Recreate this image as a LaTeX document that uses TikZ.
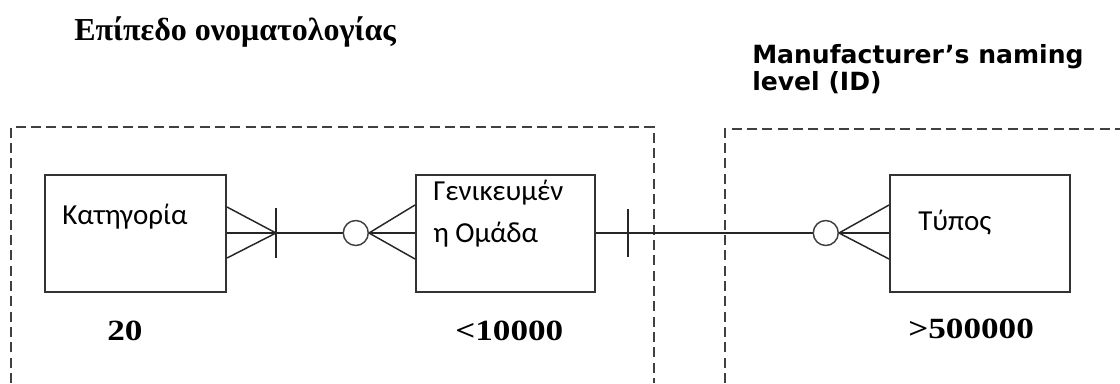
\documentclass[tikz,border=0pt]{standalone}
\usepackage{fontspec}
\setmainfont{Liberation Serif}
\newfontfamily\entityfont{Carlito}
\newfontfamily\levelfont{DejaVu Sans}
\newfontfamily\countfont[FakeStretch=1.2]{Liberation Serif}
\usepackage{tikz}
\usetikzlibrary{calc,positioning}

\tikzset{
  entity/.style={draw=black!80, line width=1.5pt, minimum height=87.75pt, inner sep=0pt},
  link/.style={draw=black!85, line width=1.1pt},
  ring/.style={draw=black!75, fill=white, line width=1.1pt, circle, minimum size=18.75pt, inner sep=0pt},
  level/.style={draw=black!75, line width=1.3pt, dash pattern=on 7.5pt off 4pt},
  entname/.style={anchor=base west, inner sep=0pt, font=\entityfont\fontsize{21.75pt}{26pt}\selectfont},
  count/.style={anchor=base west, inner sep=0pt, font=\countfont\bfseries\fontsize{22pt}{26pt}\selectfont}
}

\begin{document}
\begin{tikzpicture}[x=0.75pt, y=-0.75pt]
    \useasboundingbox (0,0) rectangle (1120,383);

    % Level titles
    \node[anchor=base west, inner sep=0pt, font=\bfseries\fontsize{24pt}{28pt}\selectfont] (title) at (74,40) {Επίπεδο ονοματολογίας};
    \node[anchor=base west, inner sep=0pt, font=\levelfont\bfseries\fontsize{18.8pt}{20pt}\selectfont] (maker) at (752,63) {Manufacturer’s naming};
    \node[anchor=base west, inner sep=0pt, font=\levelfont\bfseries\fontsize{18.8pt}{20pt}\selectfont] (makerid) at (752,90) {level (ID)};

    % Dashed level frames
    \draw[level] (11,383) -- (11,127) -- (654,127) -- (654,383);
    \draw[level] (725,383) -- (725,129) -- (1120,129);

    % Entities
    \node[entity, minimum width=135.75pt] (kat) at (135.5,233) {};
    \node[entity, minimum width=134.25pt] (gen) at (505.5,233) {};
    \node[entity, minimum width=135pt] (typ) at (980,233) {};

    \node[entname] (katname) at (62,224) {Κατηγορία};
    \node[entname] (genname) at (433,200) {Γενικευμέν};
    \node[entname] (genname2) at (433,242) {η Ομάδα};
    \node[entname] (typname) at (918,230) {Τύπος};

    % Relationships
    \draw[link] (kat.east) -- (gen.west);
    \draw[link] (gen.east) -- (typ.west);

    % Category side: many, mandatory
    \coordinate (katfoot) at ($(kat.east)+(49,0)$);
    \draw[link] ($(kat.east)+(0,-26)$) -- (katfoot) -- ($(kat.east)+(0,25)$);
    \draw[link] ($(katfoot)+(0,-25)$) -- ($(katfoot)+(0,25)$);

    % Group side: many, optional
    \coordinate (genfoot) at ($(gen.west)+(-46,0)$);
    \draw[link] ($(gen.west)+(0,-28)$) -- (genfoot) -- ($(gen.west)+(0,26)$);
    \node[ring, left=0pt of genfoot] (genring) {};

    % Group to type
    \coordinate (genbar) at ($(gen.east)+(32,0)$);
    \draw[link] ($(genbar)+(0,-24)$) -- ($(genbar)+(0,24)$);
    \coordinate (typfoot) at ($(typ.west)+(-50,0)$);
    \draw[link] ($(typ.west)+(0,-28)$) -- (typfoot) -- ($(typ.west)+(0,26)$);
    \node[ring, left=0pt of typfoot] (typring) {};

    % Counts
    \node[count] (katcount) at (107,340) {20};
    \node[count] (gencount) at (455,340) {<10000};
    \node[count] (typcount) at (908,338) {>500000};
\end{tikzpicture}
\end{document}
